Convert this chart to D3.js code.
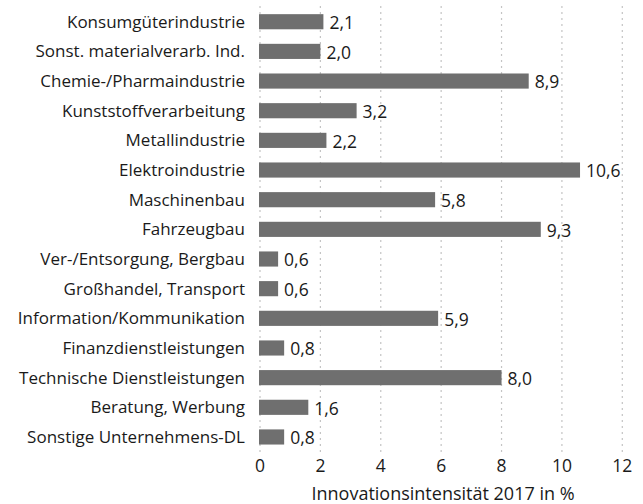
<!DOCTYPE html>
<html><head><meta charset="utf-8">
<script src="https://cdn.jsdelivr.net/npm/d3@7"></script>
<style>body{margin:0;background:#fff}svg{display:block}</style>
</head><body>
<svg id="chart" width="643" height="504"></svg>
<script>
const categories = ["Konsumgüterindustrie","Sonst. materialverarb. Ind.","Chemie-/Pharmaindustrie","Kunststoffverarbeitung","Metallindustrie","Elektroindustrie","Maschinenbau","Fahrzeugbau","Ver-/Entsorgung, Bergbau","Großhandel, Transport","Information/Kommunikation","Finanzdienstleistungen","Technische Dienstleistungen","Beratung, Werbung","Sonstige Unternehmens-DL"];
const values = [2.1,2.0,8.9,3.2,2.2,10.6,5.8,9.3,0.6,0.6,5.9,0.8,8.0,1.6,0.8];
const xTicks = [0,2,4,6,8,10,12];
const xTitle = "Innovationsintensität 2017 in %";

const font = "'Open Sans', sans-serif";
const svg = d3.select("#chart");
const x = d3.scaleLinear().domain([0,12]).range([260,622.3]);
const y = d3.scaleBand().domain(categories).range([6.9,451.8]).paddingInner(0.49).paddingOuter(0.245);

// gridlines
svg.append("g").selectAll("line").data(xTicks).join("line")
  .attr("x1",d=>x(d)).attr("x2",d=>x(d)).attr("y1",6).attr("y2",454)
  .attr("stroke","#c4c4c4").attr("stroke-width",1.2).attr("stroke-dasharray","2,4");

svg.append("g").selectAll("rect").data(values).join("rect")
  .attr("x",x(0)-1).attr("y",(d,i)=>y(categories[i]))
  .attr("width",d=>x(d)-x(0)+1).attr("height",y.bandwidth())
  .attr("fill","#6f6f6f");

const fmt = d=>d.toFixed(1).replace(".",",");
svg.append("g").selectAll("text").data(values).join("text")
  .attr("x",d=>x(d)+6).attr("y",(d,i)=>y(categories[i])+y.bandwidth()/2+7.3)
  .attr("font-family",font).attr("font-size",17.5).attr("fill","#1a1a1a")
  .text(fmt);

svg.append("g").selectAll("text").data(categories).join("text")
  .attr("x",245).attr("y",d=>y(d)+y.bandwidth()/2+6)
  .attr("text-anchor","end")
  .attr("font-family",font).attr("font-size",17).attr("fill","#1a1a1a")
  .text(d=>d);

svg.append("g").selectAll("text").data(xTicks).join("text")
  .attr("x",d=>x(d)).attr("y",471.7).attr("text-anchor","middle")
  .attr("font-family",font).attr("font-size",17.5).attr("fill","#1a1a1a")
  .text(d=>d);

svg.append("text").attr("x",443).attr("y",500).attr("text-anchor","middle")
  .attr("font-family",font).attr("font-size",18).attr("fill","#1a1a1a").text(xTitle);
</script>
</body></html>
